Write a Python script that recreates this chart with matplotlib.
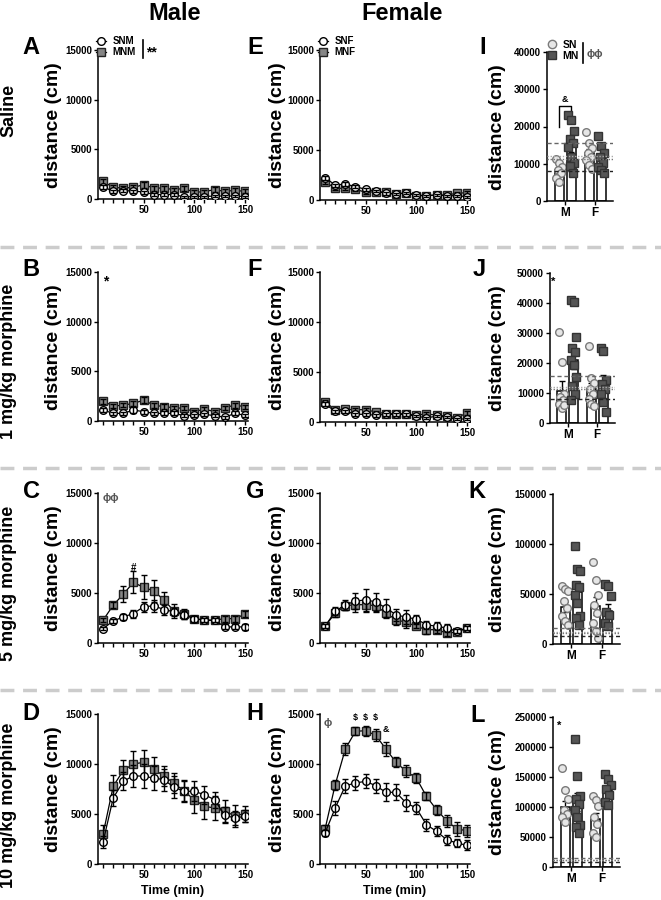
import matplotlib
matplotlib.use("Agg")
import matplotlib.pyplot as plt
from matplotlib.lines import Line2D
import numpy as np

plt.rcParams["font.family"] = ["Liberation Sans", "DejaVu Sans"]
plt.rcParams["font.weight"] = "bold"
plt.rcParams["axes.linewidth"] = 1.1

W, H = 661, 900

# ---- time course data (distance in cm per 10-min bin) ----
time = np.arange(10, 151, 10)

# saline
a_snm = [1200, 800, 850, 800, 700, 450, 450, 450, 200, 250, 250, 300, 300, 300, 250]
a_snm_err = [200, 150, 150, 150, 150, 120, 120, 120, 100, 100, 100, 100, 100, 100, 100]
a_mnm = [1770, 1170, 1100, 1170, 1440, 1100, 1100, 940, 1070, 670, 740, 940, 770, 870, 770]
a_mnm_err = [250, 200, 200, 250, 300, 250, 250, 200, 250, 200, 200, 250, 200, 250, 200]
e_snf = [2230, 1500, 1600, 1330, 1070, 900, 670, 570, 730, 500, 430, 500, 430, 430, 330]
e_snf_err = [200, 150, 200, 150, 150, 120, 120, 100, 120, 100, 100, 100, 100, 100, 100]
e_mnf = [1830, 1170, 1170, 1070, 770, 830, 770, 570, 730, 430, 430, 500, 500, 670, 730]
e_mnf_err = [200, 150, 150, 150, 120, 120, 120, 100, 120, 100, 100, 100, 100, 150, 150]

# 1 mg/kg morphine
b_snm = [1100, 770, 770, 1100, 940, 770, 770, 770, 540, 600, 670, 540, 370, 770, 570]
b_snm_err = [200, 150, 150, 300, 200, 150, 200, 200, 150, 150, 150, 150, 150, 200, 150]
b_mnm = [2000, 1500, 1600, 1770, 2100, 1600, 1440, 1340, 1270, 940, 1200, 940, 1340, 1600, 1440]
b_mnm_err = [250, 200, 200, 250, 300, 250, 250, 200, 200, 200, 250, 200, 200, 250, 200]
f_snf = [1770, 1100, 1100, 770, 770, 670, 770, 770, 770, 570, 430, 570, 500, 270, 330]
f_snf_err = [200, 150, 150, 120, 120, 120, 120, 120, 120, 100, 100, 100, 100, 100, 100]
f_mnf = [2000, 1230, 1270, 1230, 1230, 1000, 830, 830, 830, 670, 830, 670, 600, 430, 900]
f_mnf_err = [250, 150, 150, 150, 200, 150, 120, 120, 120, 120, 150, 120, 120, 100, 200]

# 5 mg/kg morphine
c_snm = [1440, 2200, 2610, 2950, 3620, 3720, 3350, 3110, 2780, 2440, 2280, 2280, 1610, 1610, 1610]
c_snm_err = [150, 200, 300, 400, 500, 600, 500, 400, 400, 300, 200, 200, 250, 250, 300]
c_mnm = [2280, 3780, 4890, 6060, 5560, 5220, 4290, 3210, 2950, 2440, 2280, 2280, 2440, 2440, 2880]
c_mnm_err = [200, 300, 800, 1100, 1200, 1100, 800, 700, 500, 300, 200, 300, 300, 300, 300]
g_snf = [1670, 3170, 3830, 4170, 4330, 4100, 3500, 2830, 2570, 2400, 1830, 1670, 1500, 1170, 1500]
g_snf_err = [200, 400, 500, 800, 1100, 900, 900, 600, 700, 400, 400, 400, 400, 200, 200]
g_mnf = [1670, 3000, 3730, 3830, 3830, 3730, 3000, 2330, 2070, 1670, 1330, 1330, 1000, 1070, 1500]
g_mnf_err = [200, 400, 400, 700, 700, 600, 500, 500, 600, 200, 400, 300, 300, 200, 200]

# 10 mg/kg morphine
d_snm = [2200, 6600, 8270, 8830, 8770, 8600, 8430, 7670, 7270, 7270, 6930, 6430, 4870, 4600, 4770]
d_snm_err = [600, 800, 900, 1100, 1200, 1200, 1100, 1100, 1000, 1000, 900, 800, 800, 700, 600]
d_mnm = [3000, 7770, 9370, 10000, 10170, 9530, 8770, 8100, 7270, 6430, 5770, 5600, 5270, 4830, 5030]
d_mnm_err = [900, 1100, 1000, 1300, 1200, 1200, 1000, 1000, 1100, 1300, 1300, 1200, 1100, 1100, 800]
h_snf = [3100, 5600, 7830, 8100, 8270, 7830, 7170, 7170, 6100, 5600, 3930, 3270, 2430, 2100, 1870]
h_snf_err = [300, 700, 700, 700, 700, 700, 900, 800, 800, 600, 600, 500, 500, 400, 500]
h_mnf = [3500, 7930, 11500, 13270, 13330, 12870, 11500, 10170, 9270, 8600, 6770, 5430, 4330, 3500, 3330]
h_mnf_err = [400, 500, 600, 400, 500, 600, 700, 500, 600, 500, 400, 500, 600, 700, 600]

# ---- total distance (cm), individual animals, groups: M-SN, M-MN, F-SN, F-MN ----
i_pts = [[11200, 10100, 9200, 8300, 7400, 6100, 5200],
         [23100, 21800, 18700, 16600, 15700, 14600, 11900, 10100, 9400, 7400],
         [18400, 15700, 14200, 12800, 11900, 11000, 9700, 8500],
         [17500, 14800, 12800, 11700, 10100, 9200, 8200, 7400]]
i_mean = [8300, 14900, 12800, 11500]
i_sem = [800, 1700, 1100, 1200]

j_pts = [[30500, 20400, 9800, 8700, 7600, 6500, 5000, 6000],
         [41000, 40200, 28800, 24900, 23800, 21000, 19300, 15400, 12300, 9800, 7600],
         [25700, 15100, 13200, 11500, 9800, 8100, 6500, 5600],
         [24900, 24100, 14300, 12900, 11200, 9600, 7000, 3700]]
j_mean = [10600, 21000, 11500, 13500]
j_sem = [3400, 3000, 2000, 2500]

k_pts = [[57700, 55000, 52700, 42700, 36000, 27700, 22700, 19300],
         [97700, 75000, 72700, 59300, 57000, 49300, 41000, 27700, 26000, 19300],
         [81700, 64300, 49300, 39300, 31000, 21000, 12700, 6000],
         [60300, 58300, 48300, 31700, 29300, 21000, 17700]]
k_mean = [37000, 52000, 38000, 33000]
k_sem = [5000, 8000, 9000, 7000]

l_pts = [[165600, 127800, 113900, 95600, 88900, 83300, 75000],
         [213900, 151700, 117800, 113900, 105600, 94400, 83300, 69400, 66700, 56700],
         [117800, 111000, 101000, 83300, 71000, 56700, 50000],
         [154400, 147200, 136000, 130600, 119400, 108300, 102800]]
l_mean = [100000, 108000, 80000, 128000]
l_sem = [10000, 15000, 10000, 7000]

# saline reference band (mean +/- SEM, dashed / dotted)
ref_lines = [15700, 12000, 11300, 8100]

fig = plt.figure(figsize=(W / 100, H / 100), dpi=100)


def box(l, t, r, b):
    return [l / W, 1 - b / H, (r - l) / W, (b - t) / H]


def ftext(x, y, s, **kw):
    fig.text(x / W, 1 - y / H, s, **kw)


def fline(xs, ys, **kw):
    fig.add_artist(Line2D([x / W for x in xs], [1 - y / H for y in ys], **kw))


def style(ax):
    for s in ("top", "right"):
        ax.spines[s].set_visible(False)
    ax.tick_params(direction="out", length=3, width=1, labelsize=7, pad=1.5)


def draw_series(ax, y, err, marker, face, edge, z):
    cont = ax.errorbar(time, y, yerr=err, fmt="-" + marker, color="black", mfc=face,
                       mec=edge, ms=5.5, mew=1, lw=0.9, elinewidth=1,
                       capsize=2.2, capthick=1)
    cont[0].set_zorder(z)
    for art in cont[1] + cont[2]:
        art.set_zorder(z + 0.5)


def time_panel(rect, sn, sn_err, mn, mn_err):
    ax = fig.add_axes(box(*rect))
    draw_series(ax, mn, mn_err, "s", "#858585", "#222222", 3)
    draw_series(ax, sn, sn_err, "o", "white", "black", 4)
    ax.set_xlim(5, 153)
    ax.set_ylim(0, 15000)
    ax.set_yticks([0, 5000, 10000, 15000])
    ax.set_xticks(time)
    ax.set_xticklabels([str(t) if t % 50 == 0 else "" for t in time])
    style(ax)
    return ax


def bar_panel(rect, pts, means, sems, ymax, ystep):
    ax = fig.add_axes(box(*rect))
    pos = [0.8, 1.2, 1.8, 2.2]
    ax.bar(pos, means, width=0.3, color="white", edgecolor="black", lw=1.1, zorder=2)
    ax.errorbar(pos, means, yerr=sems, fmt="none", ecolor="black", elinewidth=1,
                capsize=2.2, capthick=1, zorder=3)
    for k, (p, vals) in enumerate(zip(pos, pts)):
        jit = np.resize([-0.09, 0.0, 0.09, -0.05, 0.05], len(vals))
        if k % 2 == 0:
            ax.plot(p + jit, vals, "o", ls="none", mfc="#e6e6e6", mec="#7a7a7a",
                    ms=5.5, mew=1, zorder=4)
        else:
            ax.plot(p + jit, vals, "s", ls="none", mfc="#555555", mec="#333333",
                    ms=5.5, mew=1, zorder=4)
    ax.axhline(ref_lines[0], color="#666666", ls=(0, (3, 2)), lw=1, zorder=5)
    ax.axhline(ref_lines[1], color="#aaaaaa", ls=(0, (1, 1.2)), lw=1, zorder=5)
    ax.axhline(ref_lines[2], color="#777777", ls=(0, (1, 1.2)), lw=1, zorder=5)
    ax.axhline(ref_lines[3], color="#222222", ls=(0, (3, 2)), lw=1, zorder=5)
    ax.set_xlim(0.4, 2.6)
    ax.set_xticks([1, 2])
    ax.set_xticklabels(["M", "F"])
    ax.set_ylim(0, ymax)
    ax.set_yticks(np.arange(0, ymax + 1, ystep))
    style(ax)
    ax.tick_params(axis="x", labelsize=8.5)
    return ax


# time-course panels (pixel boxes: left, top, right, bottom)
axA = time_panel((98, 50, 248, 199), a_snm, a_snm_err, a_mnm, a_mnm_err)
axE = time_panel((320, 50, 470, 200), e_snf, e_snf_err, e_mnf, e_mnf_err)
axB = time_panel((98, 272, 248, 421), b_snm, b_snm_err, b_mnm, b_mnm_err)
axF = time_panel((320, 272, 470, 422), f_snf, f_snf_err, f_mnf, f_mnf_err)
axC = time_panel((98, 493, 248, 643), c_snm, c_snm_err, c_mnm, c_mnm_err)
axG = time_panel((320, 493, 470, 643), g_snf, g_snf_err, g_mnf, g_mnf_err)
axD = time_panel((98, 714, 248, 864), d_snm, d_snm_err, d_mnm, d_mnm_err)
axH = time_panel((320, 714, 470, 864), h_snf, h_snf_err, h_mnf, h_mnf_err)

# bar panels
axI = bar_panel((547, 52, 613, 201), i_pts, i_mean, i_sem, 40000, 10000)
axJ = bar_panel((550, 273, 615, 423), j_pts, j_mean, j_sem, 50000, 10000)
axK = bar_panel((553, 494, 620, 644), k_pts, k_mean, k_sem, 150000, 50000)
axL = bar_panel((553, 717, 620, 867), l_pts, l_mean, l_sem, 250000, 50000)

# y labels
for x, y in [(53, 125), (277, 125), (497, 127),
             (53, 347), (277, 347), (497, 348),
             (53, 568), (277, 568), (497, 569),
             (53, 789), (277, 789), (497, 792)]:
    ftext(x, y, "distance (cm)", rotation=90, ha="center", va="center", fontsize=14)

ftext(173, 891, "Time (min)", ha="center", va="center", fontsize=9)
ftext(395, 891, "Time (min)", ha="center", va="center", fontsize=9)

# column titles and row labels
ftext(175, 2, "Male", ha="center", va="top", fontsize=17)
ftext(402, 2, "Female", ha="center", va="top", fontsize=17)
for y, s in [(110, "Saline"), (361, "1 mg/kg morphine"),
             (583, "5 mg/kg morphine"), (805, "10 mg/kg morphine")]:
    ftext(9, y, s, rotation=90, ha="center", va="center", fontsize=13)

# panel letters
for x, y, s in [(31, 48, "A"), (255, 48, "E"), (483, 48, "I"),
                (31, 270, "B"), (255, 270, "F"), (479, 270, "J"),
                (31, 491, "C"), (255, 491, "G"), (477, 491, "K"),
                (31, 714, "D"), (255, 714, "H"), (478, 715, "L")]:
    ftext(x, y, s, ha="center", va="center", fontsize=17)

# separators
for y in [247, 468, 690]:
    fline([0, W], [y, y], color="#cccccc", lw=2.5, ls=(0, (4, 2.5)))

# legends
h_sn = Line2D([], [], color="black", lw=0.9, marker="o", mfc="white", mec="black", ms=5.5)
h_mn = Line2D([], [], color="black", lw=0.9, marker="s", mfc="#858585", mec="#222222", ms=5.5)
for ax, x0, labels in [(axA, 96, ["SNM", "MNM"]), (axE, 318, ["SNF", "MNF"])]:
    ax.legend([h_sn, h_mn], labels, loc="upper left",
              bbox_to_anchor=(x0 / W, 1 - 36 / H), bbox_transform=fig.transFigure,
              frameon=False, fontsize=7, handlelength=1.0, handletextpad=0.7,
              labelspacing=0.15, borderpad=0, borderaxespad=0)
fline([143, 143], [40, 58], color="black", lw=1.2)
ftext(146, 52, "**", ha="left", va="center", fontsize=10)

b_sn = Line2D([], [], ls="none", marker="o", mfc="#e6e6e6", mec="#7a7a7a", ms=6)
b_mn = Line2D([], [], ls="none", marker="s", mfc="#555555", mec="#333333", ms=6)
axI.legend([b_sn, b_mn], ["SN", "MN"], loc="upper left",
           bbox_to_anchor=(548 / W, 1 - 40 / H), bbox_transform=fig.transFigure,
           frameon=False, fontsize=7.5, handlelength=0.8, handletextpad=0.6,
           labelspacing=0.1, borderpad=0, borderaxespad=0)
fline([583, 583], [43, 63], color="black", lw=1.2)
ftext(587, 54, "ϕϕ", ha="left", va="center", fontsize=8, color="#555555")

# significance marks
ftext(106, 281, "*", ha="center", va="center", fontsize=10)
ftext(111, 498, "ϕϕ", ha="center", va="center", fontsize=8, color="#555555")
axC.text(40, 7500, "#", ha="center", va="center", fontsize=7)
ftext(328, 723, "ϕ", ha="center", va="center", fontsize=8, color="#555555")
for t in [40, 50, 60]:
    axH.text(t, 14650, "$", ha="center", va="center", fontsize=6.5)
axH.text(70, 13500, "&", ha="center", va="center", fontsize=6.5)
ftext(553, 282, "*", ha="center", va="center", fontsize=8)
ftext(559, 726, "*", ha="center", va="center", fontsize=8)

axI.plot([0.8, 0.8, 1.2, 1.2], [20000, 25500, 25500, 24000], color="black", lw=1)
axI.text(1.0, 27300, "&", ha="center", va="center", fontsize=6.5)

fig.savefig("out.png", dpi=100)
